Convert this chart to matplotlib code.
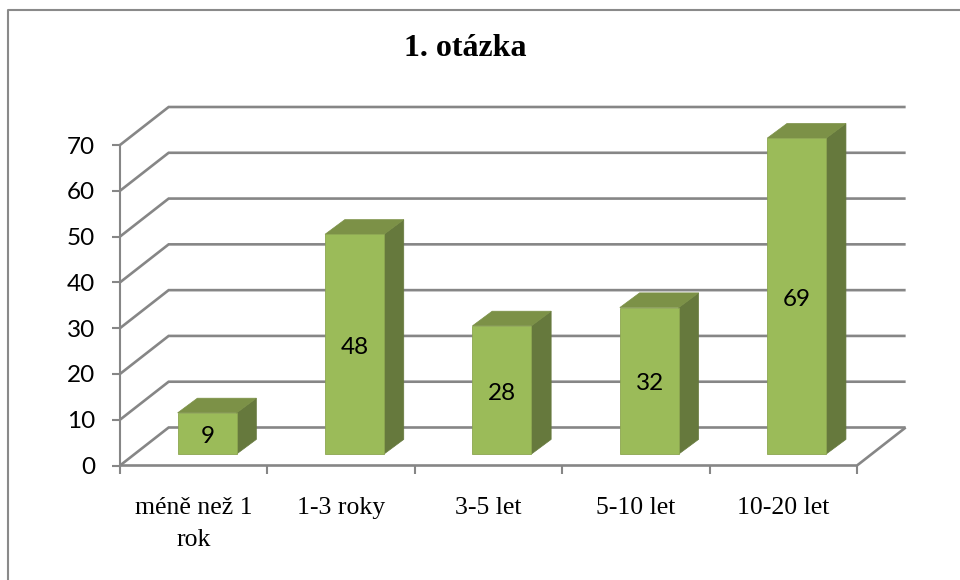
import matplotlib
matplotlib.use("Agg")
import matplotlib.pyplot as plt
from matplotlib.lines import Line2D
from matplotlib.patches import Polygon

categories = ["méně než 1\nrok", "1-3 roky", "3-5 let", "5-10 let", "10-20 let"]
values = [9, 48, 28, 32, 69]
y_ticks = [0, 10, 20, 30, 40, 50, 60, 70]

W, H = 960, 580
LEFT, RIGHT, TOP, BOTTOM = 120, 857, 145, 465.5

GRID = "#868686"
FRONT = "#9BBB59"
SIDE = "#66793D"
ROOF = "#7C9147"
EDGE = "#8CA650"

# fake 3d depth, in data units
wall_dx, wall_dy = 0.33, 8.3
bar_dx, bar_dy = 0.134, 3.2
bar_w = 0.40
bar_shift = 0.091
bar_base = 2.5

fig = plt.figure(figsize=(9.6, 5.8), dpi=100)
ax = fig.add_axes([LEFT / W, 1 - BOTTOM / H, (RIGHT - LEFT) / W, (BOTTOM - TOP) / H])
ax.set_xlim(0, len(categories))
ax.set_ylim(0, 70)
for s in ax.spines.values():
    s.set_visible(False)
ax.patch.set_visible(False)

# walls and floor
for v in y_ticks:
    ax.plot([0, wall_dx, len(categories) + wall_dx], [v, v + wall_dy, v + wall_dy],
            color=GRID, lw=1.9, clip_on=False, zorder=1, solid_joinstyle="miter",
            solid_capstyle="butt")
ax.plot([0, 0], [0, 70], color=GRID, lw=1.5, clip_on=False, zorder=2)
ax.plot([0, len(categories), len(categories) + wall_dx], [0, 0, wall_dy],
        color=GRID, lw=1.9, clip_on=False, zorder=2, solid_capstyle="butt")

# bars
xs = [i + 0.5 + bar_shift for i in range(len(values))]
ax.bar(xs, values, width=bar_w, bottom=bar_base, color=FRONT, edgecolor=EDGE, lw=0.6,
       clip_on=False, zorder=4)
for x, v in zip(xs, values):
    l, r = x - bar_w / 2, x + bar_w / 2
    t = bar_base + v
    ax.add_patch(Polygon([(r, bar_base), (r + bar_dx, bar_base + bar_dy), (r + bar_dx, t + bar_dy), (r, t)],
                         facecolor=SIDE, edgecolor=SIDE, lw=0.5, clip_on=False, zorder=3))
    ax.add_patch(Polygon([(l, t), (l + bar_dx, t + bar_dy), (r + bar_dx, t + bar_dy), (r, t)],
                         facecolor=ROOF, edgecolor=ROOF, lw=0.5, clip_on=False, zorder=3))
    ax.annotate(str(v), (x, bar_base + v / 2), xytext=(0.3, -2.3), textcoords="offset points",
                ha="center", va="center", fontsize=17.5, family="Lato", color="black", zorder=5)

ax.set_yticks(y_ticks)
ax.set_yticklabels([str(v) for v in y_ticks], fontsize=17.5, family="Lato")
ax.tick_params(axis="y", length=5.8, width=1.5, color=GRID, pad=12)

ax.set_xticks(range(len(categories) + 1))
ax.set_xticklabels([])
ax.tick_params(axis="x", length=5.5, width=1.5, color=GRID)
ax.set_xticks([i + 0.5 for i in range(len(categories))], minor=True)
ax.set_xticklabels(categories, minor=True, fontsize=18.5, family="Liberation Serif", linespacing=1.55)
ax.tick_params(axis="x", which="minor", length=0, pad=23)

fig.text(465 / W, 1 - 49 / H, "1. otázka", ha="center", va="center", fontsize=23,
         fontweight="bold", family="Liberation Serif")

# chart frame, only top and left are in the crop
fig.add_artist(Line2D([8 / W, 8 / W, 1], [0, 1 - 10 / H, 1 - 10 / H], color="#8A8A8A", lw=1.5))

fig.savefig("out.png", dpi=100)
